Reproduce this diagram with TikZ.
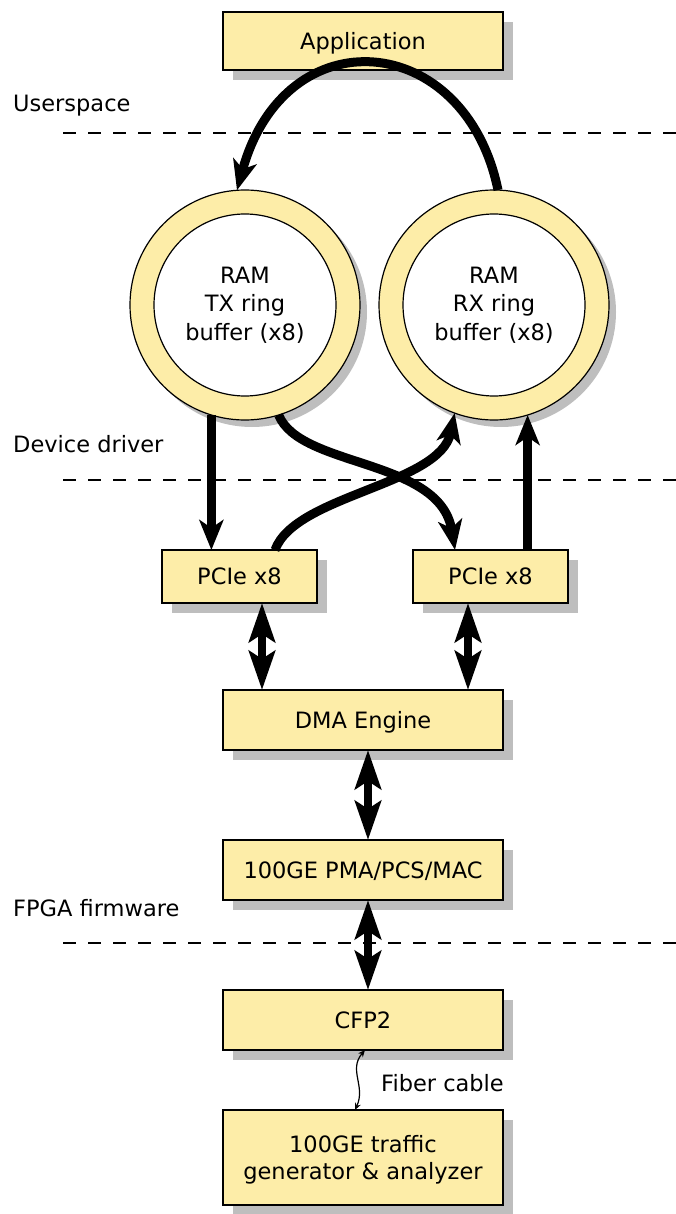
\documentclass[tikz,border=0pt]{standalone}
\usepackage{fontspec}
\setmainfont{DejaVu Sans}
\usetikzlibrary{arrows.meta,shadows}
\definecolor{boxyellow}{RGB}{253,237,168}
\definecolor{shadowgray}{RGB}{190,190,190}
\tikzset{
 box/.style={draw=black, line width=1.2pt, fill=boxyellow, minimum width=280pt, minimum height=60pt, inner sep=0pt, outer sep=0pt, align=center, text depth=0pt, font=\fontsize{22.5}{27}\selectfont, drop shadow={shadow xshift=10pt, shadow yshift=-10pt, fill=shadowgray, opacity=1}},
 ring/.style={circle, draw=black, line width=1.2pt, fill=boxyellow, minimum size=230pt, inner sep=0pt, outer sep=0pt, drop shadow={shadow xshift=7pt, shadow yshift=-7pt, fill=shadowgray, opacity=1}},
 hole/.style={circle, draw=black, line width=1.2pt, fill=white, minimum size=182pt, inner sep=0pt, align=center, font=\fontsize{22.5}{28.5}\selectfont},
 flow/.style={line width=9pt, -{Stealth[length=30pt,width=24pt,inset=8pt]}},
 both/.style={line width=8.5pt, {Stealth[length=39pt,width=26pt,inset=8pt]}-{Stealth[length=39pt,width=26pt,inset=8pt]}},
 layer/.style={dash pattern=on 13pt off 12pt, line width=1.5pt},
 lbl/.style={anchor=west, text depth=0pt, font=\fontsize{22.5}{26}\selectfont, inner sep=0pt},
}
\begin{document}
\begin{tikzpicture}[x=1pt,y=-1pt]
\useasboundingbox (0,0) rectangle (676,1214);
% layer separators and labels
\draw[layer] (63,133) -- (676,133);
\draw[layer] (63,480) -- (676,480);
\draw[layer] (63,943) -- (676,943);
\node[lbl] (us) at (13,103.5) {Userspace};
\node[lbl] (dd) at (13,444) {Device driver};
\node[lbl] (fw) at (13,908) {FPGA firmware};
% blocks
\node[box, minimum height=58pt] (app) at (363,41) {Application};
\node[ring] (tx) at (245,305) {};
\node[hole] (txi) at (245,305) {RAM\\TX ring\\buffer (x8)};
\node[ring] (rx) at (494,305) {};
\node[hole] (rxi) at (494,305) {RAM\\RX ring\\buffer (x8)};
\node[box, minimum width=155pt, minimum height=53pt] (pl) at (239.5,576.5) {PCIe x8};
\node[box, minimum width=155pt, minimum height=53pt] (pr) at (490.5,576.5) {PCIe x8};
\node[box] (dma) at (363,720) {DMA Engine};
\node[box] (pma) at (363,870) {100GE PMA/PCS/MAC};
\node[box] (cfp) at (363,1020) {CFP2};
\node[box, minimum height=95pt] (gen) at (363,1157.5) {100GE traffic\\generator \& analyzer};
% flows
\draw[flow] (rx.88) .. controls (465,30) and (285,15) .. (tx.94);
\draw[flow] (tx.-107) -- (tx.-107 |- pl.north);
\draw[flow] (tx.-73) .. controls (300,468) and (440,458) .. ([xshift=-35.5pt]pr.north);
\draw[flow] ([xshift=35.5pt]pl.north) .. controls (295,495) and (440,485) .. (rx.-110);
\draw[flow] (rx.-73 |- pr.north) -- (rx.-73);
\draw[both] ([xshift=22.5pt]pl.south) -- ([xshift=22.5pt]pl.south |- dma.north);
\draw[both] ([xshift=-22.5pt]pr.south) -- ([xshift=-22.5pt]pr.south |- dma.north);
\draw[both] ([xshift=5pt]dma.south) -- ([xshift=5pt]pma.north);
\draw[both] ([xshift=5pt]pma.south) -- ([xshift=5pt]cfp.north);
\draw[line width=1.2pt, {Stealth[length=7pt,width=6pt]}-{Stealth[length=7pt,width=6pt]}] ([xshift=2pt]cfp.south) .. controls (348,1070) and (366,1086) .. ([xshift=-8pt]gen.north);
\node[lbl] (fib) at (381,1083) {Fiber cable};
\end{tikzpicture}
\end{document}
